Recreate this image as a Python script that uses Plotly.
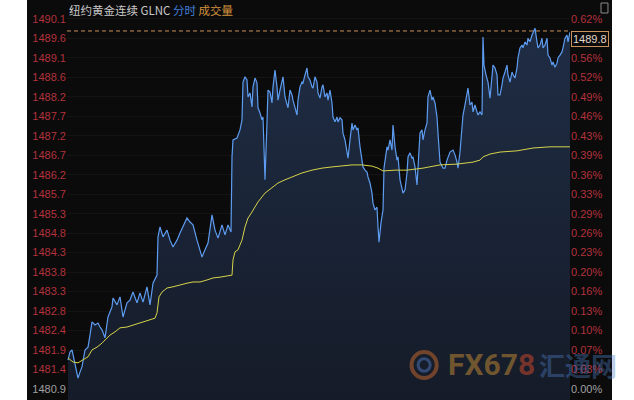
import numpy as np
import plotly.graph_objects as go

# ---- data ----
minutes = [0, 2, 4, 7, 10, 12, 14, 17, 20, 22, 24, 27, 30, 32, 34, 37, 40, 44, 45, 49,
           52, 55, 59, 62, 65, 69, 72, 75, 79, 82, 85, 89, 90, 92, 95, 99, 102, 105, 109, 112,
           115, 119, 122, 125, 129, 132, 134, 137, 140, 144, 147, 150, 154, 157, 160, 163, 164, 165, 169, 172,
           174, 175, 177, 179, 180, 182, 184, 185, 187, 189, 190, 192, 194, 195, 197, 199, 200, 202, 204, 205,
           207, 209, 210, 212, 214, 215, 217, 219, 220, 222, 224, 225, 227, 229, 230, 232, 234, 235, 237, 239,
           240, 242, 244, 245, 247, 249, 250, 252, 254, 255, 257, 259, 260, 262, 264, 265, 267, 269, 270, 272,
           274, 275, 277, 279, 280, 282, 284, 285, 287, 289, 290, 292, 294, 295, 297, 299, 300, 302, 304, 305,
           307, 309, 310, 311, 313, 315, 316, 319, 320, 322, 324, 325, 327, 329, 330, 332, 335, 337, 339, 340,
           342, 344, 345, 347, 349, 350, 352, 354, 355, 357, 359, 360, 362, 364, 365, 367, 369, 370, 372, 375,
           377, 379, 382, 385, 387, 389, 390, 392, 394, 395, 397, 399, 400, 402, 404, 405, 407, 409, 410, 412,
           414, 415, 416, 418, 420, 422, 424, 425, 427, 429, 430, 432, 434, 435, 437, 439, 440, 442, 444, 445,
           447, 449, 450, 452, 454, 455, 457, 459, 460, 462, 464, 465, 467, 469, 470, 472, 474, 475, 477, 479,
           480, 482, 484, 485, 487, 489, 490, 492, 494, 495, 497, 499, 500, 502]

price = [1481.62, 1481.82, 1481.87, 1481.55, 1481.17, 1481.32, 1481.45, 1481.87, 1481.94, 1482.24,
         1482.57, 1482.49, 1482.54, 1482.44, 1482.37, 1482.17, 1482.69, 1482.94, 1483.16, 1482.99,
         1483.19, 1482.69, 1483.04, 1483.11, 1483.31, 1483.04, 1483.29, 1483.06, 1483.44, 1482.99,
         1483.53, 1483.73, 1484.68, 1484.93, 1484.68, 1484.85, 1484.60, 1484.43, 1484.60, 1484.78,
         1484.93, 1485.15, 1485.05, 1484.98, 1484.60, 1484.36, 1484.18, 1484.36, 1484.53, 1485.23,
         1484.85, 1484.65, 1484.98, 1484.73, 1484.98, 1484.80, 1486.67, 1487.09, 1487.14, 1487.34,
         1487.59, 1488.53, 1488.66, 1488.58, 1488.16, 1488.26, 1487.91, 1488.41, 1488.63, 1488.51,
         1487.89, 1487.76, 1487.59, 1487.66, 1486.10, 1487.54, 1488.33, 1488.28, 1488.01, 1488.41,
         1488.83, 1488.41, 1488.08, 1488.33, 1488.58, 1488.66, 1488.16, 1488.01, 1487.89, 1488.33,
         1488.21, 1488.08, 1487.91, 1487.71, 1488.08, 1488.41, 1488.53, 1488.51, 1488.71, 1488.88,
         1488.66, 1488.58, 1488.41, 1488.38, 1488.66, 1488.53, 1488.26, 1488.13, 1488.41, 1488.46,
         1488.16, 1488.26, 1488.08, 1488.33, 1488.01, 1487.66, 1487.54, 1487.66, 1487.54, 1487.64,
         1487.59, 1487.26, 1487.09, 1486.84, 1486.64, 1487.09, 1487.51, 1487.34, 1487.46, 1487.34,
         1487.39, 1486.92, 1486.59, 1486.42, 1486.34, 1486.29, 1486.17, 1486.02, 1485.77, 1485.52,
         1485.35, 1485.42, 1484.93, 1484.55, 1485.03, 1485.35, 1486.39, 1486.92, 1486.84, 1487.09,
         1486.84, 1487.46, 1486.92, 1486.59, 1486.67, 1486.10, 1485.77, 1485.85, 1486.27, 1486.67,
         1486.77, 1486.64, 1486.67, 1486.42, 1485.97, 1486.34, 1487.26, 1487.34, 1487.09, 1487.34,
         1487.51, 1488.16, 1488.33, 1488.08, 1488.16, 1488.01, 1487.66, 1487.26, 1486.54, 1486.39,
         1486.39, 1486.59, 1486.79, 1486.84, 1486.72, 1486.54, 1486.39, 1486.79, 1487.39, 1487.71,
         1487.96, 1488.21, 1488.38, 1487.96, 1488.03, 1487.79, 1487.96, 1487.79, 1487.71, 1487.79,
         1487.71, 1489.65, 1488.95, 1488.71, 1488.53, 1488.13, 1488.71, 1488.95, 1488.88, 1488.71,
         1488.21, 1488.21, 1488.46, 1488.63, 1488.78, 1488.95, 1488.71, 1488.53, 1488.78, 1488.71,
         1488.63, 1488.88, 1489.13, 1489.38, 1489.45, 1489.38, 1489.53, 1489.45, 1489.62, 1489.53,
         1489.70, 1489.77, 1489.87, 1489.53, 1489.38, 1489.45, 1489.62, 1489.38, 1489.45, 1489.62,
         1489.20, 1489.13, 1488.95, 1489.03, 1488.90, 1489.00, 1489.13, 1489.20, 1489.28, 1489.38,
         1489.62, 1489.70, 1489.53, 1489.77]

avg_minutes = [0, 5, 10, 15, 20, 24, 29, 34, 37, 42, 47, 52, 59, 65, 72, 79, 87, 89, 91, 94,
               99, 105, 112, 119, 125, 132, 139, 145, 152, 159, 164, 165, 167, 170, 174, 177, 180, 184, 190, 197,
               204, 210, 217, 224, 234, 244, 254, 264, 274, 284, 294, 304, 310, 315, 327, 339, 355, 372, 389, 405,
               412, 415, 422, 432, 449, 465, 482, 502]
avg_price = [1481.67, 1481.57, 1481.55, 1481.62, 1481.70, 1481.87, 1481.94, 1482.04, 1482.12, 1482.24,
             1482.32, 1482.42, 1482.44, 1482.49, 1482.54, 1482.59, 1482.66, 1482.79, 1483.19, 1483.31,
             1483.41, 1483.44, 1483.49, 1483.53, 1483.56, 1483.56, 1483.61, 1483.66, 1483.68, 1483.71,
             1483.73, 1484.11, 1484.31, 1484.36, 1484.60, 1484.93, 1485.15, 1485.30, 1485.55, 1485.77,
             1485.90, 1486.02, 1486.10, 1486.17, 1486.27, 1486.34, 1486.39, 1486.42, 1486.44, 1486.47,
             1486.47, 1486.44, 1486.39, 1486.32, 1486.34, 1486.34, 1486.39, 1486.47, 1486.49, 1486.54,
             1486.59, 1486.67, 1486.74, 1486.79, 1486.82, 1486.89, 1486.92, 1486.92]

left_labels = ["1480.9", "1481.4", "1481.9", "1482.4", "1482.8", "1483.3", "1483.8", "1484.3",
               "1484.8", "1485.3", "1485.7", "1486.2", "1486.7", "1487.2", "1487.7", "1488.2",
               "1488.6", "1489.1", "1489.6", "1490.1"]
right_labels = ["0.00%", "0.03%", "0.07%", "0.10%", "0.13%", "0.16%", "0.20%", "0.23%", "0.26%",
                "0.29%", "0.33%", "0.36%", "0.39%", "0.43%", "0.46%", "0.49%", "0.52%", "0.56%",
                "0.59%", "0.62%"]
last_price = 1489.8
title_name = "纽约黄金连续 GLNC"
title_tab1 = "分时"
title_tab2 = "成交量"

# ---- styling ----
BG = "#0b0b0c"
RED = "#b3323b"
GRAY = "#a0a0a0"
tickvals = np.linspace(1480.9, 1490.1, len(left_labels))
yrange = [1480.626, 1490.57]

def colored(labels):
    out = []
    for i, t in enumerate(labels):
        if i == 0:
            out.append(f'<span style="color:{GRAY}">{t}</span>')
        else:
            out.append(t)
    return out

fig = go.Figure()
fig.add_trace(go.Scatter(
    x=minutes, y=price, mode="lines",
    line=dict(color="#5d9cf0", width=1.2),
    fill="tozeroy",
    fillgradient=dict(type="vertical",
                      colorscale=[[0, "#151b28"], [1, "#1f2d45"]],
                      start=1480.6, stop=1489.9),
    hoverinfo="skip", showlegend=False))
fig.add_trace(go.Scatter(
    x=avg_minutes, y=avg_price, mode="lines", yaxis="y2",
    line=dict(color="#d6d34a", width=1),
    hoverinfo="skip", showlegend=False))

fig.update_layout(
    width=634, height=400,
    margin=dict(l=67, r=64, t=0, b=0),
    paper_bgcolor="white", plot_bgcolor=BG,
    xaxis=dict(range=[-1, 502], showgrid=False, zeroline=False, showticklabels=False,
               showline=False, fixedrange=True),
    yaxis=dict(range=yrange, tickvals=tickvals, ticktext=colored(left_labels),
               tickfont=dict(family="Liberation Sans, Arial", size=11, color=RED),
               showgrid=True, gridcolor="#141414", gridwidth=1, zeroline=False,
               showline=False, ticks="", automargin=False),
    yaxis2=dict(range=yrange, tickvals=tickvals, ticktext=colored(right_labels),
                overlaying="y", side="right", anchor="x",
                tickfont=dict(family="Liberation Sans, Arial", size=11, color=RED),
                showgrid=False, zeroline=False, showline=False, ticks="", automargin=False),
    shapes=[
        dict(type="rect", xref="paper", yref="paper", x0=-0.0795, x1=1.0835, y0=0, y1=1,
             fillcolor=BG, line=dict(width=0), layer="below"),
        dict(type="line", xref="paper", yref="y", x0=0, x1=1, y0=last_price, y1=last_price,
             line=dict(color="#c8905a", width=1, dash="4px,3px")),
        dict(type="rect", xref="paper", yref="paper", x0=1.0616, x1=1.0755, y0=0.9675, y1=0.9925,
             line=dict(color="#8a8a8a", width=1), fillcolor=BG),
        dict(type="circle", xref="paper", yref="paper", x0=0.685, x1=0.735, y0=0.055, y1=0.12,
             line=dict(color="rgba(190,100,45,0.55)", width=4)),
        dict(type="circle", xref="paper", yref="paper", x0=0.698, x1=0.722, y0=0.072, y1=0.103,
             line=dict(color="rgba(80,120,190,0.5)", width=3)),
    ],
    annotations=[
        dict(xref="paper", yref="paper", x=0.0, y=0.975, xanchor="left", yanchor="middle",
             showarrow=False,
             text=f'{title_name} <span style="color:#3f7ed8">{title_tab1}</span> '
                  f'<span style="color:#d4923c">{title_tab2}</span>',
             font=dict(family="Noto Sans CJK SC", size=11.5, color="#c8c8c8")),
        dict(xref="paper", yref="y", x=1, xshift=1, y=last_price, xanchor="left", yanchor="top",
             showarrow=False, text=f"{last_price:.1f}",
             font=dict(family="Liberation Sans, Arial", size=11, color="#e2d8cc"),
             bgcolor=BG, bordercolor="#c8905a", borderwidth=1, borderpad=1),
        dict(xref="paper", yref="paper", x=0.843, y=0.088, xanchor="center", yanchor="middle",
             showarrow=False,
             text='<span style="color:rgba(175,125,50,0.6)">FX67</span>'
                  '<span style="color:rgba(175,65,45,0.65)">8</span>',
             font=dict(family="Roboto", size=30, color="#b08040", weight="bold")),
        dict(xref="paper", yref="paper", x=1.016, y=0.088, xanchor="center", yanchor="middle",
             showarrow=False, text="汇通网",
             font=dict(family="Noto Sans CJK SC", size=26, color="rgba(80,130,200,0.4)",
                       weight="bold")),
    ],
)

fig.write_html("out.html", config={"displayModeBar": False},
               post_script="document.body.style.margin='0';document.body.style.overflow='hidden';")
